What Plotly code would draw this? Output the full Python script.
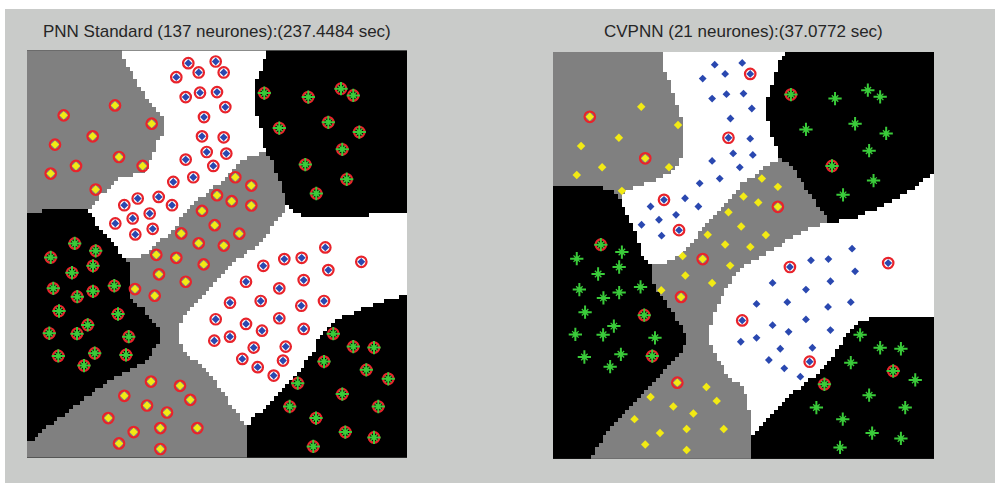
import numpy as np
import plotly.graph_objects as go

# ---------------- data (u: left->right, v: top->bottom, panel units 0..380 x 0..408) -------------
yellow_u = [36.7, 88, 124.7, 65.7, 28, 92, 49, 115.7, 23.7, 68.7,
            208.3, 224.3, 190, 204.7, 224.3, 175, 187.7, 212.3, 154.3, 171.7, 196.8, 129.3, 149.3, 176.7,
            132, 158.7, 108, 127.7,
            124, 153, 97.3, 120, 163.3, 140, 81.3, 106.7, 133.3, 170.3, 92, 133.3]
yellow_v = [65, 55, 73.3, 86, 94.3, 106.7, 115.7, 115.7, 123.3, 139.3,
            127, 135.3, 145, 151, 155.3, 160.7, 175, 183.5, 183.3, 193.2, 195.5, 204.7, 207.7, 214.3,
            224.3, 231.7, 239, 245.7,
            331.7, 336, 346, 355.7, 350, 362.7, 368.3, 382.3, 378.3, 378.3, 393.7, 399.3]

blue_u = [161.3, 188.7, 149.3, 171.7, 196.7, 158.7, 173, 190, 198.3, 177, 175, 196.7, 179.7, 199.3,
          158.7, 186.3, 166.3, 146.3, 131.7, 110.7, 97.3, 145, 122.7, 105.7, 88.3, 125.7, 108.3,
          298.3, 334.3, 257.3, 274.7, 236.3, 301.3, 219, 276.7, 252.3, 203, 233.7, 274.3, 297,
          188.7, 219, 252.3, 235, 276.7, 187.3, 203, 226.7, 258.7, 215.3, 256, 230.7, 246.7]
blue_v = [12.7, 11, 26.7, 22, 22, 46.7, 42.3, 41.7, 56.7, 66.7, 86, 87, 101.7, 103.3,
          109.3, 115.7, 127, 131.7, 146.7, 148.3, 155, 155, 163.3, 168.3, 173.3, 178.7, 184.3,
          197.3, 211.7, 209, 207.7, 215.7, 220, 231.7, 230, 238.3, 252.7, 251, 255.7, 251,
          269.3, 274, 268.3, 280.7, 279, 290.7, 286.7, 297.7, 296.7, 309, 310.7, 317.3, 325.7]

green_u = [237.3, 281.3, 314, 326.3, 252.3, 301.3, 332.3, 315.3, 278.3, 319.7, 289.3,
           47.7, 68.7, 23.7, 66, 45, 26.3, 66, 87.3, 50.3, 32, 91, 60.7, 22.3, 50, 101.7,
           31.3, 67.7, 99, 57,
           306.3, 326.3, 347, 297, 339.3, 361.3, 270.7, 315.3, 262.7, 351.3, 289, 318.3, 347, 286.3]
green_v = [42.7, 46.7, 38.3, 45, 77.7, 72, 81.7, 99, 114.3, 129, 143.3,
           193.3, 200.7, 207.3, 215.7, 222.7, 238.3, 241.3, 235.7, 246.7, 261, 264, 275, 283.3, 283.7,
           286.7, 306, 303.3, 305, 315.7,
           283.7, 296.7, 297.7, 311.7, 320, 329, 333.3, 344.3, 356.7, 356.7, 368.3, 382.3, 387.7, 396.7]

# CVPNN neurons (indices into the class arrays) - 21 in total
cvpnn_yellow = [0, 5, 14, 22, 27, 28]
cvpnn_blue = [4, 10, 19, 25, 28, 31, 40, 50]
cvpnn_green = [0, 8, 11, 21, 28, 34, 36]

titles = ["PNN Standard (137 neurones):(237.4484 sec)", "CVPNN (21 neurones):(37.0772 sec)"]

# ---------------- decision-region boundaries -------------
# left panel (PNN standard)
L_tl_gray_white = [(95, 0), (98, 11), (103, 18), (108, 28), (113, 38), (120, 48), (128, 58), (136, 66),
                   (136, 85), (132, 90), (128, 98), (125, 108), (120, 118), (113, 123), (97, 126), (88, 131),
                   (82, 138), (73, 145), (67, 155), (60, 160)]
L_tl_gray_black = [(47, 159), (15, 159), (15, 163), (0, 163)]
L_wt_black_left = [(67, 168), (73, 178), (82, 188), (90, 198), (97, 208)]
L_wt_gray = [(113, 208), (123, 201), (133, 191), (147, 178), (157, 165), (170, 151), (182, 141), (195, 131),
             (208, 116), (218, 110), (228, 105), (238, 102)]
L_wt_black_right = [(235, 79), (228, 61), (228, 35), (230, 28), (235, 18), (238, 8), (241, 0)]
L_gm_black_tr = [(245, 111), (250, 125), (255, 138), (260, 148), (260, 156)]
L_gm_white_r = [(255, 165), (250, 171), (243, 180), (235, 190), (226, 198), (220, 203), (208, 211), (198, 221),
                (188, 232), (178, 242), (170, 250), (163, 259), (157, 267), (153, 275), (152, 283), (152, 292),
                (157, 300), (167, 310), (177, 320), (187, 330), (196, 343), (206, 358), (215, 370), (220, 377)]
L_wr_black_tr = [(266, 161), (276, 166), (341, 166), (341, 163), (380, 162)]
L_wr_black_br = [(380, 245), (370, 247), (355, 252), (341, 257), (328, 262), (316, 267), (305, 273), (298, 280),
                 (291, 290), (288, 300), (281, 310), (275, 317), (268, 325), (261, 332), (255, 340), (245, 350),
                 (235, 360), (225, 370), (220, 377)]
L_gm_black_l = [(100, 208), (102, 220), (102, 247), (110, 253), (117, 260), (125, 270), (132, 280), (132, 290),
                (127, 300), (120, 310), (110, 317), (97, 323), (83, 330), (70, 340), (57, 350), (43, 360),
                (30, 370), (17, 380), (7, 390), (0, 395)]

# right panel (CVPNN)
R_tl_gray_white = [(111, 0), (111, 17), (115, 27), (118, 37), (121, 47), (125, 57), (128, 67), (130, 77),
                   (130, 93), (128, 103), (125, 110), (121, 117), (116, 122), (108, 127), (98, 130), (88, 133),
                   (78, 137), (70, 143), (65, 147)]
R_tl_gray_black = [(61, 140), (51, 137), (41, 135), (0, 135)]
R_wt_black_left = [(70, 153), (73, 163), (78, 173), (83, 183), (86, 193), (90, 205), (98, 212)]
R_wt_gray = [(111, 212), (126, 203), (135, 197), (145, 183), (155, 170), (165, 160), (175, 147), (185, 137),
             (189, 130), (196, 127), (206, 120), (216, 112), (226, 107)]
R_wt_black_right = [(222, 93), (217, 80), (214, 67), (214, 50), (216, 40), (219, 30), (222, 20), (226, 10),
                    (229, 3), (232, 0)]
R_gm_black_tr = [(232, 110), (239, 117), (246, 127), (252, 137), (259, 147), (266, 157), (271, 163), (274, 170)]
R_gm_white_r = [(266, 173), (256, 177), (246, 183), (232, 190), (222, 197), (212, 203), (202, 207), (192, 214),
                (182, 223), (174, 235), (167, 248), (161, 261), (158, 272), (156, 282), (158, 295), (165, 309),
                (171, 319), (180, 329), (188, 335), (193, 347), (197, 365), (199, 384)]
R_wr_black_tr = [(282, 170), (299, 167), (309, 163), (322, 157), (336, 150), (349, 143), (362, 137),
                 (372, 127), (380, 122)]
R_wr_black_br = [(380, 265), (324, 265), (316, 267), (307, 270), (299, 277), (292, 285), (287, 295), (279, 305),
                 (269, 315), (261, 324), (252, 332), (242, 339), (232, 349), (222, 359), (212, 369), (204, 379),
                 (199, 384)]
R_gm_black_l = [(98, 212), (98, 225), (101, 235), (108, 245), (115, 255), (121, 265), (128, 275), (133, 285),
                (133, 292), (128, 299), (121, 309), (111, 319), (101, 329), (91, 339), (81, 352), (71, 362),
                (61, 372), (51, 385), (41, 399), (38, 408)]

PANEL_W, PANEL_H = 380, 408
GRID_N = 100  # decision grid resolution

# ---------------- build region polygons -------------
def polys(tl_gw, tl_gb, wt_bl, wt_g, wt_br, gm_btr, gm_wr, wr_btr, wr_bbr, gm_bl, gm_bottom_right):
    gray_tl = [(0, 0)] + tl_gw + tl_gb
    white_top = tl_gw + wt_bl + wt_g + wt_br
    gray_mid = wt_g + gm_btr + gm_wr + [gm_bottom_right, (0, PANEL_H)] + gm_bl[::-1]
    white_right = [gm_btr[-1]] + wr_btr + wr_bbr + gm_wr[::-1]
    return [gray_tl, gray_mid], [white_top, white_right]

L_gray, L_white = polys(L_tl_gray_white, L_tl_gray_black, L_wt_black_left, L_wt_gray, L_wt_black_right,
                        L_gm_black_tr, L_gm_white_r, L_wr_black_tr, L_wr_black_br, L_gm_black_l, (220, PANEL_H))
R_gray, R_white = polys(R_tl_gray_white, R_tl_gray_black, R_wt_black_left, R_wt_gray, R_wt_black_right,
                        R_gm_black_tr, R_gm_white_r, R_wr_black_tr, R_wr_black_br, R_gm_black_l, (199, PANEL_H))

xc = (np.arange(GRID_N) + 0.5) * PANEL_W / GRID_N
yc = (np.arange(GRID_N) + 0.5) * PANEL_H / GRID_N
GX, GY = np.meshgrid(xc, yc)


def inside(poly):
    px = np.array([p[0] for p in poly], float)
    py = np.array([p[1] for p in poly], float)
    res = np.zeros(GX.shape, bool)
    for i in range(len(px)):
        j = i - 1
        if py[i] == py[j]:
            continue
        c = ((py[i] > GY) != (py[j] > GY)) & (GX < (px[j] - px[i]) * (GY - py[i]) / (py[j] - py[i]) + px[i])
        res ^= c
    return res


def labels(grays, whites):
    z = np.zeros(GX.shape)
    for p in grays:
        z[inside(p)] = 1
    for p in whites:
        z[inside(p)] = 2
    return z


zL = labels(L_gray, L_white)
zR = labels(R_gray, R_white)

# ---------------- figure -------------
W, H = 995, 483
fig = go.Figure()

RED = "#e8232b"
YEL = "#f2ea14"
BLU = "#2a48b0"
GRN = "#3acb3a"


def add_panel(z, xa, ya, yi, bi, gi):
    fig.add_trace(go.Heatmap(x=xc, y=yc, z=z, zmin=0, zmax=2, showscale=False, hoverinfo="skip",
                             colorscale=[[0, "#000000"], [0.5, "#808080"], [1, "#ffffff"]],
                             xaxis=xa, yaxis=ya))
    ring = dict(symbol="circle-open", size=10.5, color=RED, line=dict(width=2.2, color=RED))
    for uu, vv, idx in ((yellow_u, yellow_v, yi), (blue_u, blue_v, bi), (green_u, green_v, gi)):
        fig.add_trace(go.Scatter(x=[uu[k] for k in idx], y=[vv[k] for k in idx], mode="markers",
                                 marker=ring, xaxis=xa, yaxis=ya, hoverinfo="skip"))
    fig.add_trace(go.Scatter(x=yellow_u, y=yellow_v, mode="markers", xaxis=xa, yaxis=ya, hoverinfo="skip",
                             marker=dict(symbol="diamond", size=6.5, color=YEL, line=dict(width=0))))
    fig.add_trace(go.Scatter(x=blue_u, y=blue_v, mode="markers", xaxis=xa, yaxis=ya, hoverinfo="skip",
                             marker=dict(symbol="diamond", size=6, color=BLU, line=dict(width=0))))
    fig.add_trace(go.Scatter(x=green_u, y=green_v, mode="markers", xaxis=xa, yaxis=ya, hoverinfo="skip",
                             marker=dict(symbol="cross-thin-open", size=9.5, color=GRN,
                                         line=dict(width=2, color=GRN))))
    fig.add_trace(go.Scatter(x=green_u, y=green_v, mode="markers", xaxis=xa, yaxis=ya, hoverinfo="skip",
                             marker=dict(symbol="x-thin-open", size=6.5, color=GRN,
                                         line=dict(width=1.3, color=GRN))))
    fig.add_trace(go.Scatter(x=green_u, y=green_v, mode="markers", xaxis=xa, yaxis=ya, hoverinfo="skip",
                             marker=dict(symbol="diamond", size=5, color=GRN, line=dict(width=0))))


all_y = list(range(len(yellow_u)))
all_b = list(range(len(blue_u)))
all_g = list(range(len(green_u)))
add_panel(zL, "x", "y", all_y, all_b, all_g)
add_panel(zR, "x2", "y2", cvpnn_yellow, cvpnn_blue, cvpnn_green)

ax = dict(visible=False, range=[0, PANEL_W], fixedrange=True)
ay = dict(visible=False, range=[PANEL_H, 0], fixedrange=True)
title_font = dict(family="Liberation Sans, Arial, sans-serif", size=17, color="#262626")
fig.update_layout(
    width=W, height=H, margin=dict(l=0, r=0, t=0, b=0),
    paper_bgcolor="#c9cbc9", plot_bgcolor="#000000", showlegend=False,
    xaxis=dict(ax, domain=[27 / W, 407 / W]),
    yaxis=dict(ay, domain=[1 - 457.7 / H, 1 - 50.5 / H]),
    xaxis2=dict(ax, domain=[553 / W, 934 / W]),
    yaxis2=dict(ay, domain=[1 - 458.7 / H, 1 - 52 / H], anchor="x2"),
    shapes=[
        dict(type="rect", xref="paper", yref="paper", x0=0, x1=1, y0=1 - 9 / H, y1=1,
             fillcolor="#ffffff", line=dict(width=0), layer="below"),
        dict(type="rect", xref="paper", yref="paper", x0=0, x1=5 / W, y0=0, y1=1,
             fillcolor="#ffffff", line=dict(width=0), layer="below"),
    ],
    annotations=[
        dict(text=titles[0], x=217 / W, y=1 - 32 / H, xref="paper", yref="paper", showarrow=False,
             xanchor="center", yanchor="middle", font=title_font),
        dict(text=titles[1], x=743 / W, y=1 - 32 / H, xref="paper", yref="paper", showarrow=False,
             xanchor="center", yanchor="middle", font=title_font),
    ],
)
fig.write_html("out.html", config={"displayModeBar": False},
               post_script="document.body.style.margin='0';document.body.style.overflow='hidden';")
